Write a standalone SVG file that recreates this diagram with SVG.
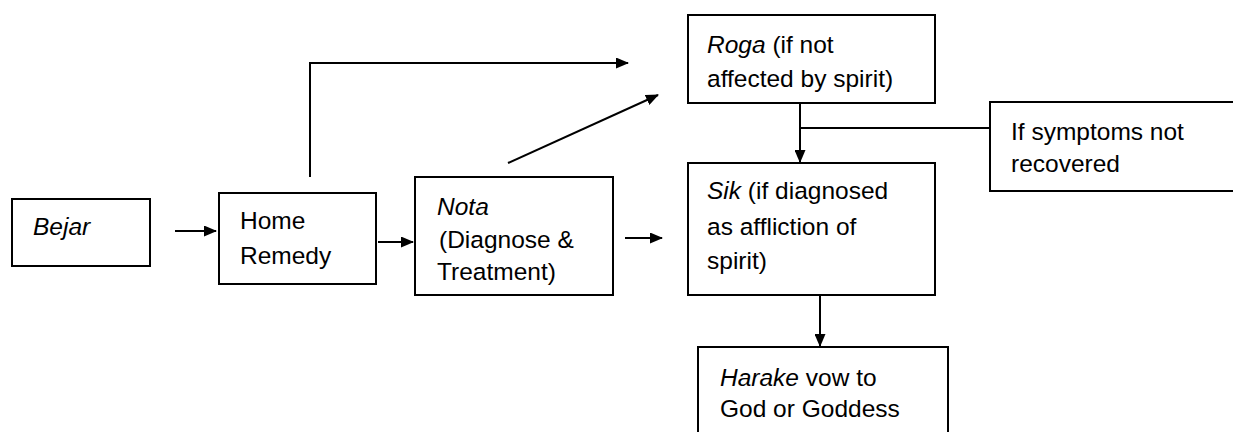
<svg xmlns="http://www.w3.org/2000/svg" width="1233" height="432" viewBox="0 0 1233 432">
<defs>
<marker id="ah" markerWidth="13" markerHeight="11" refX="12" refY="5.5" orient="auto" markerUnits="userSpaceOnUse">
<path d="M0,0 L13,5.5 L0,11 Z" fill="#000"/>
</marker>
<style>
.box{fill:#fff;stroke:#000;stroke-width:2}
.t{font-family:"Liberation Sans",Arial,sans-serif;font-size:24.5px;fill:#000}
.i{font-style:italic}
.c{fill:none;stroke:#000;stroke-width:2}
</style>
</defs>
<rect width="1233" height="432" fill="#fff"/>
<g id="connectors">
<path class="c" d="M175,231 H216" marker-end="url(#ah)"/>
<path class="c" d="M378,242 H413" marker-end="url(#ah)"/>
<path class="c" d="M310,177 V63 H628" marker-end="url(#ah)"/>
<path class="c" d="M508,163 L658,95" marker-end="url(#ah)"/>
<path class="c" d="M625,238 H662" marker-end="url(#ah)"/>
<path class="c" d="M800,103 V162" marker-end="url(#ah)"/>
<path class="c" d="M800,128 H990"/>
<path class="c" d="M820,295 V346" marker-end="url(#ah)"/>
</g>
<g id="bejar">
<rect class="box" x="12" y="199" width="138" height="67"/>
<text class="t i" x="33" y="235">Bejar</text>
</g>
<g id="home">
<rect class="box" x="219" y="193" width="157" height="91"/>
<text class="t" x="240" y="229">Home</text>
<text class="t" x="240" y="264">Remedy</text>
</g>
<g id="nota">
<rect class="box" x="415" y="177" width="198" height="118"/>
<text class="t i" x="437" y="215">Nota</text>
<text class="t" x="439" y="248">(Diagnose &amp;</text>
<text class="t" x="437" y="280">Treatment)</text>
</g>
<g id="roga">
<rect class="box" x="688" y="15" width="247" height="88"/>
<text class="t" x="707" y="53"><tspan class="i">Roga</tspan> (if not</text>
<text class="t" x="707" y="87">affected by spirit)</text>
</g>
<g id="symptoms">
<rect class="box" x="990" y="102" width="250" height="89"/>
<text class="t" x="1011" y="140">If symptoms not</text>
<text class="t" x="1011" y="172">recovered</text>
</g>
<g id="sik">
<rect class="box" x="688" y="163" width="247" height="132"/>
<text class="t" x="707" y="199"><tspan class="i">Sik</tspan> (if diagnosed</text>
<text class="t" x="707" y="235">as affliction of</text>
<text class="t" x="707" y="269">spirit)</text>
</g>
<g id="harake">
<rect class="box" x="698" y="347" width="250" height="100"/>
<text class="t" x="720" y="386"><tspan class="i">Harake</tspan> vow to</text>
<text class="t" x="720" y="417">God or Goddess</text>
</g>
</svg>
